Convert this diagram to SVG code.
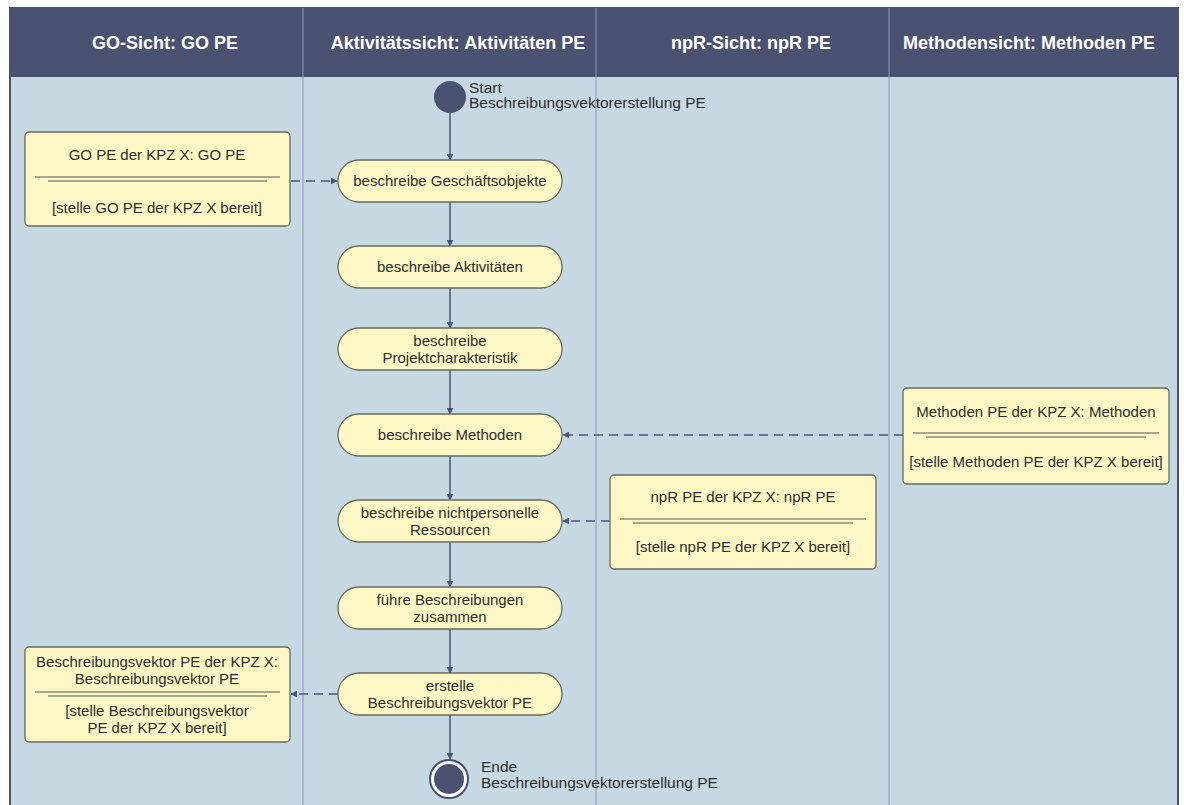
<svg xmlns="http://www.w3.org/2000/svg" width="1184" height="805" viewBox="0 0 1184 805">
<defs>
<style>
.hdr{fill:#ffffff;font-family:"Liberation Sans",Arial,sans-serif;font-size:18px;font-weight:bold;text-anchor:middle}
.t{fill:#2e2e2e;font-family:"Liberation Sans",Arial,sans-serif;font-size:15px;text-anchor:middle}
.tl{fill:#2e2e2e;font-family:"Liberation Sans",Arial,sans-serif;font-size:15.5px}
.act{fill:#fcf7c5;stroke:#6a6a60;stroke-width:1.3}
.obj{fill:#fcf7c5;stroke:#6a6a60;stroke-width:1.3}
.dl{stroke:#555;stroke-width:1.2}
.lane{stroke:#8a9ab8;stroke-width:1}
.flow{stroke:#4a5578;stroke-width:1.5;fill:none}
.dash{stroke:#4a5578;stroke-width:1.5;fill:none;stroke-dasharray:9,6}
</style>
<marker id="ah" viewBox="0 0 10 10" refX="9" refY="5" markerWidth="7" markerHeight="7" orient="auto" markerUnits="userSpaceOnUse">
<path d="M0,0 L10,5 L0,10 z" fill="#4a5578"/>
</marker>
</defs>
<rect x="0" y="0" width="1184" height="805" fill="#ffffff"/>
<g id="frame">
<rect x="10" y="8" width="1168" height="820" fill="#c6d8e1" stroke="#4b5170" stroke-width="2"/>
<rect x="10" y="8" width="1168" height="69" fill="#4b5170"/>
<line class="lane" x1="303" y1="8" x2="303" y2="805"/>
<line class="lane" x1="596" y1="8" x2="596" y2="805"/>
<line class="lane" x1="889" y1="8" x2="889" y2="805"/>
<text class="hdr" x="165" y="49">GO-Sicht: GO PE</text>
<text class="hdr" x="458" y="49">Aktivitätssicht: Aktivitäten PE</text>
<text class="hdr" x="751" y="49">npR-Sicht: npR PE</text>
<text class="hdr" x="1029" y="49">Methodensicht: Methoden PE</text>
</g>
<g id="connectors">
<line class="flow" x1="450" y1="113" x2="450" y2="160" marker-end="url(#ah)"/>
<line class="flow" x1="450" y1="202" x2="450" y2="246" marker-end="url(#ah)"/>
<line class="flow" x1="450" y1="288" x2="450" y2="328" marker-end="url(#ah)"/>
<line class="flow" x1="450" y1="370" x2="450" y2="414" marker-end="url(#ah)"/>
<line class="flow" x1="450" y1="456" x2="450" y2="500" marker-end="url(#ah)"/>
<line class="flow" x1="450" y1="542" x2="450" y2="587" marker-end="url(#ah)"/>
<line class="flow" x1="450" y1="629" x2="450" y2="673" marker-end="url(#ah)"/>
<line class="flow" x1="450" y1="715" x2="450" y2="759" marker-end="url(#ah)"/>
<line class="dash" x1="291" y1="181" x2="337" y2="181" marker-end="url(#ah)"/>
<line class="dash" x1="903" y1="435" x2="563" y2="435" marker-end="url(#ah)"/>
<line class="dash" x1="610" y1="521" x2="563" y2="521" marker-end="url(#ah)"/>
<line class="dash" x1="338" y1="694" x2="291" y2="694" marker-end="url(#ah)"/>
</g>
<g id="start">
<circle cx="450" cy="97" r="16" fill="#4b5170"/>
<text class="tl" x="469" y="93">Start</text>
<text class="tl" x="469" y="108">Beschreibungsvektorerstellung PE</text>
</g>
<g id="a1">
<rect class="act" x="338" y="160" width="224" height="42" rx="21"/>
<text class="t" x="450" y="186">beschreibe Geschäftsobjekte</text>
</g>
<g id="a2">
<rect class="act" x="338" y="246" width="224" height="42" rx="21"/>
<text class="t" x="450" y="272">beschreibe Aktivitäten</text>
</g>
<g id="a3">
<rect class="act" x="338" y="328" width="224" height="42" rx="21"/>
<text class="t" x="450" y="346">beschreibe</text>
<text class="t" x="450" y="363">Projektcharakteristik</text>
</g>
<g id="a4">
<rect class="act" x="338" y="414" width="224" height="42" rx="21"/>
<text class="t" x="450" y="440">beschreibe Methoden</text>
</g>
<g id="a5">
<rect class="act" x="338" y="500" width="224" height="42" rx="21"/>
<text class="t" x="450" y="518">beschreibe nichtpersonelle</text>
<text class="t" x="450" y="535">Ressourcen</text>
</g>
<g id="a6">
<rect class="act" x="338" y="587" width="224" height="42" rx="21"/>
<text class="t" x="450" y="605">führe Beschreibungen</text>
<text class="t" x="450" y="622">zusammen</text>
</g>
<g id="a7">
<rect class="act" x="338" y="673" width="224" height="42" rx="21"/>
<text class="t" x="450" y="691">erstelle</text>
<text class="t" x="450" y="708">Beschreibungsvektor PE</text>
</g>
<g id="end">
<circle cx="449" cy="779" r="19" fill="#ffffff" stroke="#4b5170" stroke-width="2"/>
<circle cx="449" cy="779" r="15" fill="#4b5170"/>
<text class="tl" x="481" y="772">Ende</text>
<text class="tl" x="481" y="788">Beschreibungsvektorerstellung PE</text>
</g>
<g id="o1">
<rect class="obj" x="25" y="132" width="265" height="94" rx="4"/>
<text class="t" x="157" y="160">GO PE der KPZ X: GO PE</text>
<line class="dl" x1="35" y1="177" x2="280" y2="177"/>
<line class="dl" x1="48" y1="181" x2="267" y2="181"/>
<text class="t" x="157" y="213">[stelle GO PE der KPZ X bereit]</text>
</g>
<g id="o2">
<rect class="obj" x="903" y="388" width="266" height="96" rx="4"/>
<text class="t" x="1036" y="417">Methoden PE der KPZ X: Methoden</text>
<line class="dl" x1="913" y1="433" x2="1159" y2="433"/>
<line class="dl" x1="926" y1="437" x2="1146" y2="437"/>
<text class="t" x="1036" y="467">[stelle Methoden PE der KPZ X bereit]</text>
</g>
<g id="o3">
<rect class="obj" x="610" y="475" width="266" height="94" rx="4"/>
<text class="t" x="743" y="502">npR PE der KPZ X: npR PE</text>
<line class="dl" x1="620" y1="519" x2="866" y2="519"/>
<line class="dl" x1="633" y1="523" x2="853" y2="523"/>
<text class="t" x="743" y="552">[stelle npR PE der KPZ X bereit]</text>
</g>
<g id="o4">
<rect class="obj" x="25" y="647" width="265" height="95" rx="4"/>
<text class="t" x="157" y="667">Beschreibungsvektor PE der KPZ X:</text>
<text class="t" x="157" y="684">Beschreibungsvektor PE</text>
<line class="dl" x1="35" y1="692" x2="280" y2="692"/>
<line class="dl" x1="48" y1="696" x2="267" y2="696"/>
<text class="t" x="157" y="716">[stelle Beschreibungsvektor</text>
<text class="t" x="157" y="733">PE der KPZ X bereit]</text>
</g>
</svg>
